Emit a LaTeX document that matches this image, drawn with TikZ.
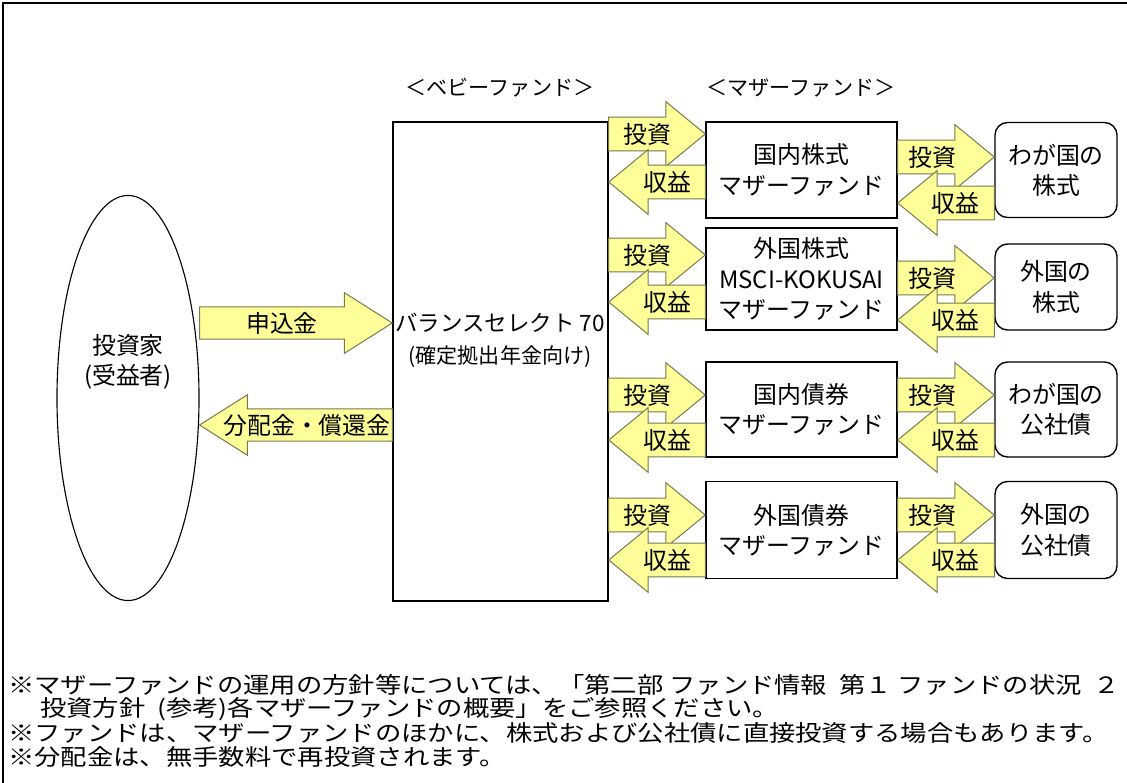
\documentclass[tikz,border=0pt]{standalone}
\usepackage{fontspec}
\setmainfont{Noto Sans CJK JP}
\newfontfamily\notefont[FakeStretch=1.17]{Noto Sans CJK JP}
\usetikzlibrary{shapes.geometric,calc}

\definecolor{arrowfill}{RGB}{255,255,153}
\definecolor{arrowline}{RGB}{120,120,80}

\tikzset{
  box/.style={draw, line width=1pt, align=center, inner sep=0pt,
    font=\fontsize{17}{21.5}\selectfont},
  asset/.style={box, rounded corners=9pt},
  lbl/.style={inner sep=0pt, font=\fontsize{17}{20}\selectfont},
  note/.style={anchor=west, inner sep=0pt, font=\notefont\fontsize{16}{18}\selectfont},
  fat/.style n args={3}{draw=arrowline, fill=arrowfill, line width=0.7pt, line join=miter,
    to path={let \p1=(\tikztostart), \p2=(\tikztotarget),
      \n1={ifthenelse(\x2>\x1,1,-1)} in
      (\x1,\y1+#1) -- (\x2-\n1*#3,\y1+#1) -- (\x2-\n1*#3,\y1+#2) -- (\x2,\y1)
      -- (\x2-\n1*#3,\y1-#2) -- (\x2-\n1*#3,\y1-#1) -- (\x1,\y1-#1) -- cycle}},
  bigarrow/.style={fat={11.4pt}{21.5pt}{34pt}},
  smallarrow/.style={fat={12pt}{23pt}{28pt}}
}

\begin{document}
\begin{tikzpicture}[x=0.025cm, y=-0.025cm]
  \useasboundingbox (0,0) rectangle (1127,783);
  \draw[line width=1.6pt] (3,783) -- (3,3) -- (1127,3);

  % headings
  \node[lbl, font=\fontsize{15}{18}\selectfont] (hbaby) at (500,88) {＜ベビーファンド＞};
  \node[lbl, font=\fontsize{15}{18}\selectfont] (hmother) at (801,88) {＜マザーファンド＞};

  % investor and baby fund
  \node[draw, ellipse, line width=0.8pt, minimum width=3.55cm, minimum height=10.125cm,
    inner sep=0pt] (inv) at (128,398) {};
  \node[lbl, align=center, font=\fontsize{17}{21}\selectfont] (invname) at (128,362) {投資家\\(受益者)};
  \node[draw, line width=1pt, minimum width=5.375cm, minimum height=11.975cm,
    inner sep=0pt] (baby) at (500.5,361.5) {};
  \node[lbl, font=\fontsize{16}{20}\selectfont] (babyname) at (500,323) {バランスセレクト 70};
  \node[lbl, font=\fontsize{15}{18}\selectfont] (babynote) at (500,357) {(確定拠出年金向け)};

  % mother funds
  \node[box, minimum width=4.775cm, minimum height=2.4cm] (m1) at (801.5,170) {国内株式\\マザーファンド};
  \node[box, minimum width=4.775cm, minimum height=2.55cm] (m2) at (801.5,279) {外国株式\\MSCI-KOKUSAI\\マザーファンド};
  \node[box, minimum width=4.775cm, minimum height=2.375cm] (m3) at (801.5,409.5) {国内債券\\マザーファンド};
  \node[box, minimum width=4.775cm, minimum height=2.425cm] (m4) at (801.5,530) {外国債券\\マザーファンド};

  % assets
  \node[asset, minimum width=3.05cm, minimum height=2.375cm] (r1) at (1056,170) {わが国の\\株式};
  \node[asset, minimum width=3.05cm, minimum height=2.15cm] (r2) at (1056,287) {外国の\\株式};
  \node[asset, minimum width=3.05cm, minimum height=2.375cm] (r3) at (1056,409.5) {わが国の\\公社債};
  \node[asset, minimum width=3.05cm, minimum height=2.425cm] (r4) at (1056,530) {外国の\\公社債};

  % money flows
  \draw[bigarrow] (inv.east |- 0,323) to (baby.west |- 0,323);
  \draw[bigarrow] (baby.west |- 0,425) to (inv.east |- 0,425);
  \node[lbl] (apply) at (282,323) {申込金};
  \node[lbl] (payout) at (307,425) {分配金・償還金};

  \draw[smallarrow] (baby.east |- 0,134) to (m1.west |- 0,134);
  \draw[smallarrow] (m1.west |- 0,182) to (baby.east |- 0,182);
  \draw[smallarrow] (baby.east |- 0,255) to (m2.west |- 0,255);
  \draw[smallarrow] (m2.west |- 0,302) to (baby.east |- 0,302);
  \draw[smallarrow] (baby.east |- 0,395) to (m3.west |- 0,395);
  \draw[smallarrow] (m3.west |- 0,440) to (baby.east |- 0,440);
  \draw[smallarrow] (baby.east |- 0,515) to (m4.west |- 0,515);
  \draw[smallarrow] (m4.west |- 0,560) to (baby.east |- 0,560);

  \draw[smallarrow] (m1.east |- 0,157) to (r1.west |- 0,157);
  \draw[smallarrow] (r1.west |- 0,203) to (m1.east |- 0,203);
  \draw[smallarrow] (m2.east |- 0,278) to (r2.west |- 0,278);
  \draw[smallarrow] (r2.west |- 0,320) to (m2.east |- 0,320);
  \draw[smallarrow] (m3.east |- 0,395) to (r3.west |- 0,395);
  \draw[smallarrow] (r3.west |- 0,440) to (m3.east |- 0,440);
  \draw[smallarrow] (m4.east |- 0,515) to (r4.west |- 0,515);
  \draw[smallarrow] (r4.west |- 0,560) to (m4.east |- 0,560);

  \node[lbl] (inv1) at (647,134) {投資};
  \node[lbl] (ret1) at (667,182) {収益};
  \node[lbl] (inv2) at (647,255) {投資};
  \node[lbl] (ret2) at (667,302) {収益};
  \node[lbl] (inv3) at (647,395) {投資};
  \node[lbl] (ret3) at (667,440) {収益};
  \node[lbl] (inv4) at (647,515) {投資};
  \node[lbl] (ret4) at (667,560) {収益};
  \node[lbl] (inv5) at (932,157) {投資};
  \node[lbl] (ret5) at (955,203) {収益};
  \node[lbl] (inv6) at (932,278) {投資};
  \node[lbl] (ret6) at (955,320) {収益};
  \node[lbl] (inv7) at (932,395) {投資};
  \node[lbl] (ret7) at (955,440) {収益};
  \node[lbl] (inv8) at (932,515) {投資};
  \node[lbl] (ret8) at (955,560) {収益};

  % notes
  \node[note] (note1) at (8,685) {※マザーファンドの運用の方針等については、「第二部 ファンド情報\ \ 第１ ファンドの状況\ \ ２};
  \node[note] (note2) at (40,709) {投資方針\ \ (参考)各マザーファンドの概要」をご参照ください。};
  \node[note] (note3) at (8,733) {※ファンドは、マザーファンドのほかに、株式および公社債に直接投資する場合もあります。};
  \node[note] (note4) at (8,757) {※分配金は、無手数料で再投資されます。};
\end{tikzpicture}
\end{document}
